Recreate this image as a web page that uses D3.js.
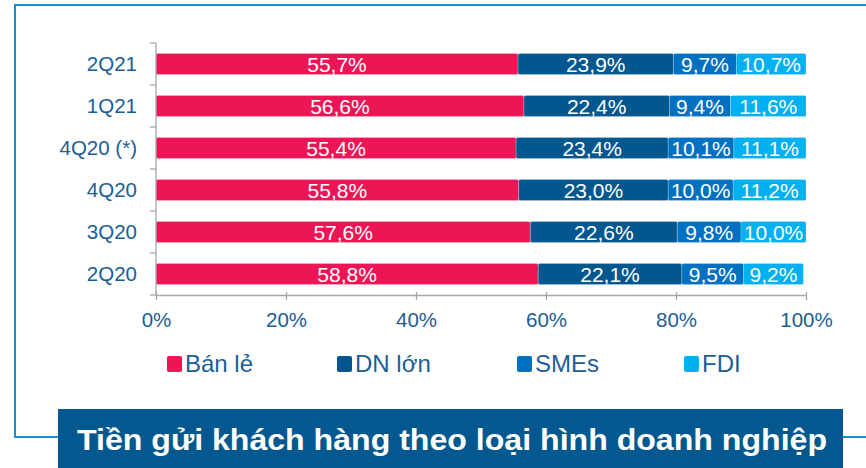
<!DOCTYPE html>
<html>
<head>
<meta charset="utf-8">
<script src="https://cdn.jsdelivr.net/npm/d3@7"></script>
<style>
  html, body { margin: 0; padding: 0; background: #fff; }
  svg { display: block; font-family: "Liberation Sans", Arial, sans-serif; }
</style>
</head>
<body>
<svg id="chart" width="866" height="468"></svg>
<script>
// ---- data ----
const categories = ["2Q21", "1Q21", "4Q20 (*)", "4Q20", "3Q20", "2Q20"];
const seriesNames = ["Bán lẻ", "DN lớn", "SMEs", "FDI"];
const banLe = [55.7, 56.6, 55.4, 55.8, 57.6, 58.8];
const dnLon = [23.9, 22.4, 23.4, 23.0, 22.6, 22.1];
const smes  = [9.7, 9.4, 10.1, 10.0, 9.8, 9.5];
const fdi   = [10.7, 11.6, 11.1, 11.2, 10.0, 9.2];
const xTicks = [0, 20, 40, 60, 80, 100];
const titleText = "Tiền gửi khách hàng theo loại hình doanh nghiệp";

const colors = ["#ED1556", "#02578F", "#0071C1", "#00B0F0"];
const textBlue = "#1B5E96";
const axisGray = "#A6A6A6";

const seriesVals = [banLe, dnLon, smes, fdi];
const rows = categories.map((c, i) => {
  const r = { cat: c };
  seriesNames.forEach((s, j) => r[s] = seriesVals[j][i]);
  return r;
});
const stack = d3.stack().keys(seriesNames)(rows);

const svg = d3.select("#chart");

// ---- frame ----
const frameColor = "#1A8FCB";
svg.append("path")
  .attr("d", "M866,5 H15 V437 H58")
  .attr("fill", "none").attr("stroke", frameColor).attr("stroke-width", 2);
svg.append("path")
  .attr("d", "M843,437 H866")
  .attr("fill", "none").attr("stroke", frameColor).attr("stroke-width", 2);

// ---- scales ----
const x = d3.scaleLinear().domain([0, 100]).range([156, 806]);
const y = d3.scaleBand().domain(categories).range([43, 295]).paddingInner(0.5).paddingOuter(0.25);

// ---- bars ----
const g = svg.append("g");
stack.forEach((layer, j) => {
  const lg = g.append("g");
  lg.selectAll("rect").data(layer).join("rect")
    .attr("x", d => x(d[0]))
    .attr("y", d => y(d.data.cat))
    .attr("width", d => x(d[1]) - x(d[0]))
    .attr("height", y.bandwidth())
    .attr("rx", 1.5)
    .attr("fill", colors[j])
    .attr("stroke", "#ffffff").attr("stroke-opacity", 0.35).attr("stroke-width", 0.6);
  lg.selectAll("text").data(layer).join("text")
    .attr("x", d => (x(d[0]) + x(d[1])) / 2)
    .attr("y", d => y(d.data.cat) + y.bandwidth() / 2)
    .attr("dy", "0.36em")
    .attr("text-anchor", "middle")
    .attr("fill", "#fff")
    .attr("font-size", 21)
    .text(d => (d[1] - d[0]).toFixed(1).replace(".", ",") + "%");
});

// ---- y axis ----
const yAxisG = svg.append("g");
yAxisG.append("line")
  .attr("x1", 156).attr("x2", 156).attr("y1", 43).attr("y2", 295)
  .attr("stroke", axisGray).attr("stroke-width", 1.3);
const step = y.step();
const boundaries = d3.range(categories.length + 1).map(i => 43 + i * step);
yAxisG.selectAll("line.tick").data(boundaries).join("line")
  .attr("class", "tick")
  .attr("x1", 150).attr("x2", 156).attr("y1", d => d).attr("y2", d => d)
  .attr("stroke", axisGray).attr("stroke-width", 1.3);
yAxisG.selectAll("text").data(categories).join("text")
  .attr("x", 137)
  .attr("y", d => y(d) + y.bandwidth() / 2)
  .attr("dy", "0.36em")
  .attr("text-anchor", "end")
  .attr("fill", textBlue)
  .attr("font-size", 20.5)
  .text(d => d);

// ---- x axis ----
const xAxis = d3.axisBottom(x).tickValues(xTicks).tickSize(5).tickSizeOuter(0).tickFormat(d => d + "%");
const xg = svg.append("g").attr("transform", "translate(0,295)").call(xAxis);
xg.select(".domain").attr("stroke", axisGray).attr("stroke-width", 1.3);
xg.selectAll(".tick line").attr("stroke", axisGray).attr("stroke-width", 1.3).attr("y1", -3);
xg.selectAll(".tick text")
  .attr("fill", textBlue).attr("font-size", 20.5)
  .attr("font-family", "'Liberation Sans', Arial, sans-serif")
  .attr("y", 0).attr("dy", 0)
  .attr("transform", "translate(0,32)");

// ---- legend ----
const legendX = [167, 337, 517, 684];
const lgnd = svg.append("g");
seriesNames.forEach((s, j) => {
  lgnd.append("rect")
    .attr("x", legendX[j]).attr("y", 356).attr("width", 15).attr("height", 16)
    .attr("rx", 2).attr("fill", colors[j]);
  lgnd.append("text")
    .attr("x", legendX[j] + 18).attr("y", 372)
    .attr("fill", textBlue).attr("font-size", 24)
    .text(s);
});

// ---- title box ----
svg.append("rect")
  .attr("x", 58).attr("y", 409).attr("width", 785).attr("height", 59)
  .attr("fill", "#03598F");
svg.append("text")
  .attr("x", 77).attr("y", 450)
  .attr("fill", "#fff")
  .attr("font-size", 29)
  .attr("font-weight", "bold")
  .attr("textLength", 750)
  .attr("lengthAdjust", "spacingAndGlyphs")
  .text(titleText);
</script>
</body>
</html>
